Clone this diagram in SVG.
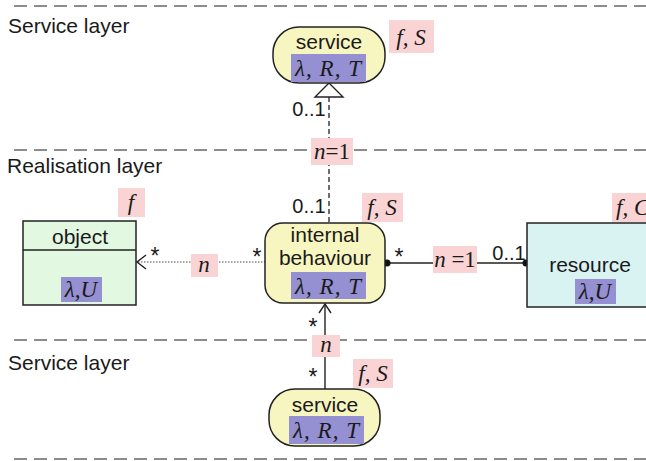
<svg xmlns="http://www.w3.org/2000/svg" width="646" height="461" viewBox="0 0 646 461">
<defs>
<style>
.sep{stroke:#8c8c8c;stroke-width:2;stroke-dasharray:13 7;fill:none}
.lbl{font-family:"Liberation Sans",Arial,sans-serif;font-size:21px;fill:#1a1a1a}
.nt{font-family:"Liberation Sans",Arial,sans-serif;font-size:21px;fill:#1a1a1a;text-anchor:middle}
.mt{font-family:"Liberation Serif","Times New Roman",serif;font-style:italic;font-size:23px;fill:#1a1a1a;text-anchor:middle}
.rm{font-style:normal}
.mult{font-family:"Liberation Sans",Arial,sans-serif;font-size:20px;fill:#1a1a1a;text-anchor:middle}
.star{font-family:"Liberation Sans",Arial,sans-serif;font-size:23px;fill:#1a1a1a;text-anchor:middle}
.pink{fill:#fad4d4}
.blue{fill:#9490d2}
.svc{fill:#f8f6c0;stroke:#222;stroke-width:1.5}
.ln{stroke:#222;stroke-width:1.4;fill:none}
</style>
</defs>
<g id="separators">
<line class="sep" x1="14" y1="6" x2="646" y2="6"/>
<line class="sep" x1="14" y1="150" x2="646" y2="150"/>
<line class="sep" x1="14" y1="340" x2="646" y2="340"/>
<line class="sep" x1="14" y1="459" x2="646" y2="459"/>
</g>
<g id="layer-labels">
<text class="lbl" x="8" y="33">Service layer</text>
<text class="lbl" x="7" y="173">Realisation layer</text>
<text class="lbl" x="8" y="370">Service layer</text>
</g>
<g id="connectors">
<line x1="329" y1="97" x2="329" y2="223" stroke="#222" stroke-width="1.3" stroke-dasharray="5 3"/>
<polygon points="329,83 315,97 343,97" fill="#fff" stroke="#222" stroke-width="1.4"/>
<text class="mult" x="309" y="116">0..1</text>
<text class="mult" x="309" y="213">0..1</text>
<rect class="pink" x="311" y="138" width="42" height="27"/>
<text class="mt" x="332" y="159">n<tspan class="rm">=1</tspan></text>

<line x1="138" y1="262" x2="265" y2="262" stroke="#888" stroke-width="1.3" stroke-dasharray="1.5 1.5"/>
<polyline class="ln" points="146,255 137,262 146,269"/>
<text class="star" x="155" y="264">*</text>
<text class="star" x="257" y="265">*</text>
<rect class="pink" x="191" y="254" width="27" height="23"/>
<text class="mt" x="204" y="272">n</text>

<line class="ln" x1="387" y1="263" x2="527" y2="263"/>
<circle cx="387" cy="263" r="3.5" fill="#111"/>
<circle cx="526" cy="263" r="3.5" fill="#111"/>
<text class="star" x="399" y="265">*</text>
<rect class="pink" x="433" y="246" width="44" height="27"/>
<text class="mt" x="455" y="267">n<tspan class="rm"> =1</tspan></text>
<text class="mult" x="509" y="260">0..1</text>

<line class="ln" x1="325" y1="304" x2="325" y2="389"/>
<polyline class="ln" points="319,313 325,304 331,313"/>
<text class="star" x="313" y="335">*</text>
<rect class="pink" x="312" y="335" width="28" height="22"/>
<text class="mt" x="326" y="352">n</text>
<text class="star" x="313" y="385">*</text>
</g>
<g id="service-top">
<rect class="svc" x="273" y="27" width="112" height="56" rx="26" ry="26"/>
<text class="nt" x="329" y="49">service</text>
<rect class="blue" x="291" y="54" width="75" height="28"/>
<text class="mt" x="328" y="76" textLength="66" lengthAdjust="spacing">λ, R, T</text>
<rect class="pink" x="389" y="20" width="45" height="33"/>
<text class="mt" x="411" y="45">f, S</text>
</g>
<g id="internal-behaviour">
<rect class="svc" x="265" y="223" width="120" height="80" rx="18" ry="18"/>
<text class="nt" x="325" y="242">internal</text>
<text class="nt" x="325" y="265">behaviour</text>
<rect class="blue" x="291" y="272" width="75" height="27"/>
<text class="mt" x="328" y="294" textLength="66" lengthAdjust="spacing">λ, R, T</text>
<rect class="pink" x="362" y="193" width="41" height="29"/>
<text class="mt" x="382" y="215">f, S</text>
</g>
<g id="object">
<rect x="23" y="221" width="113" height="84" fill="#e3f8e1" stroke="#222" stroke-width="1.5"/>
<line class="ln" x1="23" y1="250" x2="136" y2="250"/>
<text class="nt" x="80" y="244">object</text>
<rect class="blue" x="61" y="277" width="41" height="25"/>
<text class="mt" x="81" y="297">λ,U</text>
<rect class="pink" x="118" y="188" width="27" height="29"/>
<text class="mt" x="131" y="210">f</text>
</g>
<g id="resource">
<rect x="527" y="223" width="130" height="84" fill="#d8f3f2" stroke="#222" stroke-width="1.5"/>
<text class="nt" x="590" y="272">resource</text>
<rect class="blue" x="575" y="279" width="41" height="25"/>
<text class="mt" x="595" y="299">λ,U</text>
<rect class="pink" x="612" y="193" width="40" height="29"/>
<text class="mt" x="616" y="215" style="text-anchor:start">f, C</text>
</g>
<g id="service-bottom">
<rect class="svc" x="269" y="389" width="111" height="57" rx="26" ry="26"/>
<text class="nt" x="325" y="412">service</text>
<rect class="blue" x="289" y="416" width="75" height="28"/>
<text class="mt" x="326" y="438" textLength="66" lengthAdjust="spacing">λ, R, T</text>
<rect class="pink" x="353" y="359" width="40" height="29"/>
<text class="mt" x="373" y="381">f, S</text>
</g>
</svg>
